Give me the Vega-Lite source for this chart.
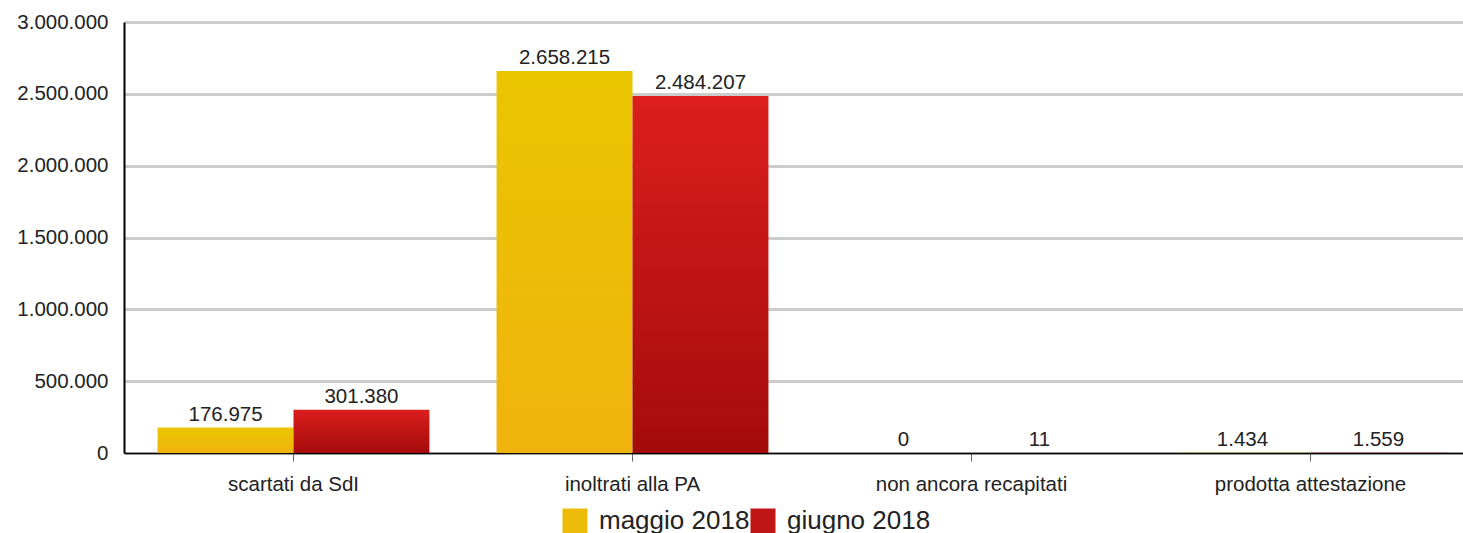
{
  "$schema": "https://vega.github.io/schema/vega-lite/v6.json",
  "width": 1339,
  "height": 431,
  "autosize": {"type": "none"},
  "padding": {"left": 124, "top": 22, "right": 0, "bottom": 80},
  "config": {
    "font": "Liberation Sans",
    "view": {"stroke": null},
    "locale": {"number": {"decimal": ",", "thousands": ".", "grouping": [3], "currency": ["€", ""]}}
  },
  "data": {
    "values": [
      {"categoria": "scartati da SdI", "mese": "maggio 2018", "valore": 176975},
      {"categoria": "scartati da SdI", "mese": "giugno 2018", "valore": 301380},
      {"categoria": "inoltrati alla PA", "mese": "maggio 2018", "valore": 2658215},
      {"categoria": "inoltrati alla PA", "mese": "giugno 2018", "valore": 2484207},
      {"categoria": "non ancora recapitati", "mese": "maggio 2018", "valore": 0},
      {"categoria": "non ancora recapitati", "mese": "giugno 2018", "valore": 11},
      {"categoria": "prodotta attestazione", "mese": "maggio 2018", "valore": 1434},
      {"categoria": "prodotta attestazione", "mese": "giugno 2018", "valore": 1559}
    ]
  },
  "encoding": {
    "x": {
      "field": "categoria", "type": "nominal",
      "sort": ["scartati da SdI", "inoltrati alla PA", "non ancora recapitati", "prodotta attestazione"],
      "scale": {"paddingInner": 0.198, "paddingOuter": 0.099, "range": [0, 1356]},
      "axis": {
        "title": null, "labelAngle": 0, "labelFontSize": 20.5, "labelColor": "#222",
        "labelLimit": 500, "labelOverlap": false,
        "domainColor": "#000", "domainWidth": 1.5, "tickColor": "#666", "tickSize": 8,
        "labelPadding": 13
      }
    },
    "xOffset": {"field": "mese", "type": "nominal", "sort": ["maggio 2018", "giugno 2018"]},
    "y": {
      "field": "valore", "type": "quantitative",
      "scale": {"domain": [0, 3000000], "nice": false},
      "axis": {
        "title": null, "format": ",d", "values": [0, 500000, 1000000, 1500000, 2000000, 2500000, 3000000],
        "labelFontSize": 20.5, "labelColor": "#222", "ticks": false, "labelPadding": 16,
        "domainColor": "#000", "domainWidth": 2, "gridColor": "#cccccc", "gridWidth": 3
      }
    }
  },
  "layer": [
    {
      "mark": {"type": "bar"},
      "encoding": {
        "fill": {
          "condition": {
            "test": "datum.mese === 'maggio 2018'",
            "value": {"gradient": "linear", "x1": 0, "y1": 0, "x2": 0, "y2": 1, "stops": [{"offset": 0, "color": "#eac600"}, {"offset": 1, "color": "#f0b30e"}]}
          },
          "value": {"gradient": "linear", "x1": 0, "y1": 0, "x2": 0, "y2": 1, "stops": [{"offset": 0, "color": "#dc1e1e"}, {"offset": 1, "color": "#a40b0b"}]}
        }
      }
    },
    {
      "mark": {"type": "square", "opacity": 0},
      "encoding": {
        "color": {
          "field": "mese", "type": "nominal",
          "scale": {"domain": ["maggio 2018", "giugno 2018"], "range": ["#edbc08", "#c01515"]},
          "legend": {
            "title": null, "orient": "none", "legendX": 438, "legendY": 486,
            "direction": "horizontal", "symbolType": "square", "symbolSize": 625,
            "symbolOpacity": 1, "symbolStrokeWidth": 0, "labelFontSize": 26, "labelColor": "#222",
            "labelOffset": 11, "columnPadding": 0, "labelLimit": 300,
            "encode": {
              "symbols": {
                "update": {
                  "fill": [
                    {"test": "datum.value === 'maggio 2018'", "value": {"gradient": "linear", "x1": 0, "y1": 0, "x2": 0, "y2": 1, "stops": [{"offset": 0, "color": "#eac600"}, {"offset": 1, "color": "#f0b30e"}]}},
                    {"value": {"gradient": "linear", "x1": 0, "y1": 0, "x2": 0, "y2": 1, "stops": [{"offset": 0, "color": "#dc1e1e"}, {"offset": 1, "color": "#a40b0b"}]}}
                  ],
                  "opacity": {"value": 1}
                }
              }
            }
          }
        }
      }
    },
    {
      "mark": {"type": "text", "baseline": "bottom", "dy": -3, "fontSize": 20.5, "color": "#222"},
      "encoding": {
        "text": {"field": "valore", "type": "quantitative", "format": ",d"}
      }
    }
  ]
}
